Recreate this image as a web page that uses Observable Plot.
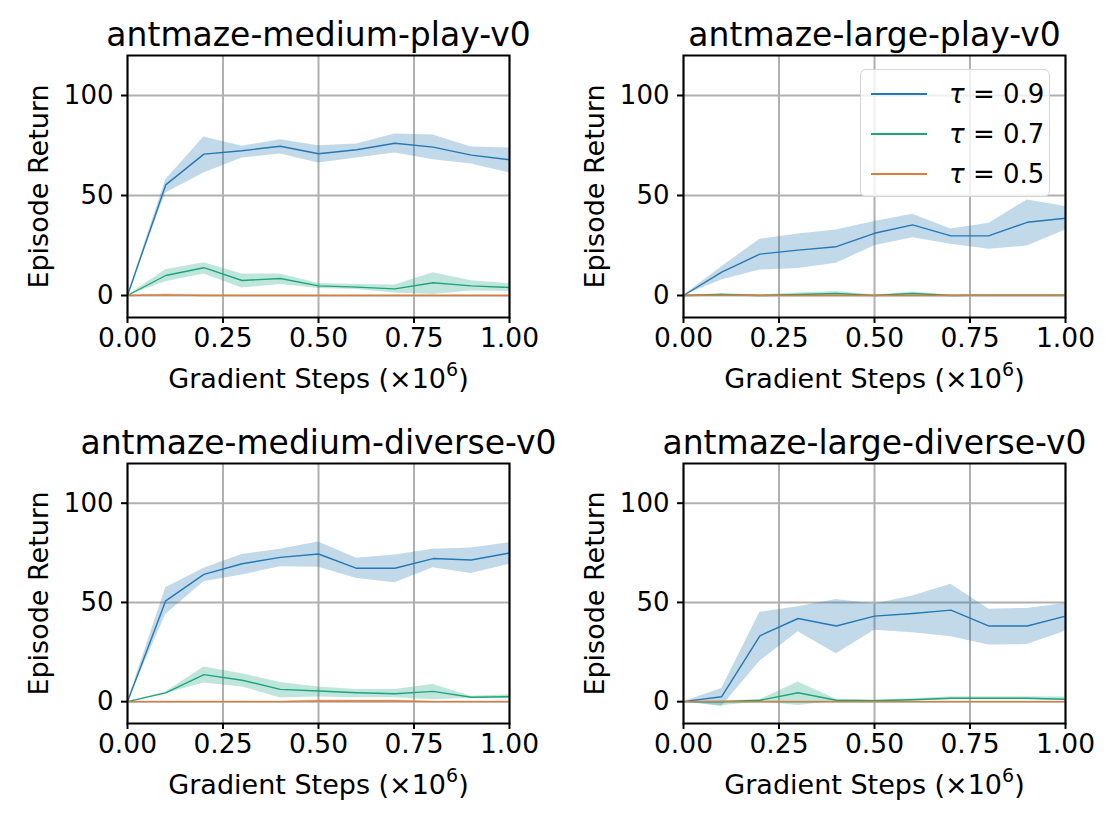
<!DOCTYPE html>
<html><head><meta charset="utf-8">
<script src="https://cdn.jsdelivr.net/npm/d3@7"></script>
<script src="https://cdn.jsdelivr.net/npm/@observablehq/plot@0.6"></script>
<style>
body{margin:0;background:#fff;font-family:"DejaVu Sans",sans-serif;}
#fig{position:relative;width:1112px;height:826px;background:#fff;}
.panel{position:absolute;}
#legend{position:absolute;left:860px;top:69px;width:188px;height:126px;border:1.5px solid #d4d4d4;border-radius:6px;background:rgba(255,255,255,0.8);}
.lrow{position:absolute;left:0;width:188px;height:40px;}
.lline{position:absolute;left:10px;width:56px;top:19px;height:0;border-top:2px solid;}
.ltext{position:absolute;left:88px;top:2px;font-size:26px;line-height:36px;color:#000;white-space:pre;}
</style></head><body><div id="fig"></div>
<script>
// ---- data ----
const steps = [0, 0.1, 0.2, 0.3, 0.4, 0.5, 0.6, 0.7, 0.8, 0.9, 1.0];
const tauLabels = ["τ = 0.9", "τ = 0.7", "τ = 0.5"];
const xTicks = [0, 0.25, 0.5, 0.75, 1.0];
const yTicks = [0, 50, 100];
const titles = ["antmaze-medium-play-v0", "antmaze-large-play-v0", "antmaze-medium-diverse-v0", "antmaze-large-diverse-v0"];
const xLabelBase = "Gradient Steps (×10";
const yLabel = "Episode Return";

// antmaze-medium-play-v0
const mp9   = [0, 55.3, 70.7, 72.4, 74.6, 70.9, 72.9, 76.1, 74.2, 70.2, 67.9];
const mp9lo = [0, 51.2, 61.2, 68.7, 70.7, 66.2, 68.7, 71.2, 67.9, 65.7, 61.2];
const mp9hi = [0, 57.9, 79.3, 74.6, 77.9, 74.9, 75.8, 80.8, 80.3, 74.2, 73.7];
const mp7   = [0, 10.0, 13.9, 7.5, 8.5, 4.8, 4.2, 3.3, 6.4, 4.8, 4.0];
const mp7lo = [0, 6.9, 10.7, 3.7, 5.5, 3.5, 3.0, 1.3, 0.5, 2.2, 2.0];
const mp7hi = [0, 12.9, 16.4, 10.7, 10.7, 6.0, 5.5, 5.2, 11.4, 7.4, 5.9];
const mp5   = [0, 0.3, 0, 0, 0, 0, 0, 0, 0, 0, 0];
const mp5lo = [0, 0, 0, 0, 0, 0, 0, 0, 0, 0, 0];
const mp5hi = [0, 0.8, 0.2, 0, 0, 0, 0, 0, 0, 0, 0];

// antmaze-large-play-v0
const lp9   = [0, 11.7, 20.7, 22.7, 24.4, 31.1, 35.3, 29.8, 29.9, 36.6, 38.6];
const lp9lo = [0, 7.7, 12.7, 13.5, 16.1, 24.9, 28.9, 25.6, 23.1, 24.7, 32.8];
const lp9hi = [0, 14.4, 28.1, 30.8, 32.8, 37.0, 40.6, 33.3, 36.1, 47.8, 44.5];
const lp7   = [0, 0.5, 0, 0.5, 1.0, 0, 1.0, 0, 0.2, 0.2, 0.2];
const lp7lo = [0, 0, 0, 0, 0.2, 0, 0.2, 0, 0, 0, 0];
const lp7hi = [0, 1.0, 0.3, 1.2, 2.0, 0.3, 1.8, 0.3, 0.5, 0.5, 0.5];
const lp5   = [0, 0.2, 0, 0, 0, 0, 0, 0, 0, 0, 0];
const lp5lo = [0, 0, 0, 0, 0, 0, 0, 0, 0, 0, 0];
const lp5hi = [0, 0.6, 0, 0, 0, 0, 0, 0, 0, 0, 0];

// antmaze-medium-diverse-v0
const md9   = [0, 50.8, 64.1, 69.5, 72.7, 74.4, 67.2, 67.2, 72.1, 71.4, 74.9];
const md9lo = [0, 43.9, 60.4, 63.8, 68.0, 67.7, 62.1, 59.9, 67.5, 64.6, 69.2];
const md9hi = [0, 57.4, 67.2, 74.2, 76.8, 80.5, 72.2, 73.9, 76.8, 77.4, 80.1];
const md7   = [0, 4.4, 13.6, 10.8, 6.2, 5.4, 4.5, 4.0, 5.2, 2.2, 2.5];
const md7lo = [0, 4.0, 9.4, 7.4, 1.9, 2.4, 2.0, 2.0, 1.0, 1.7, 1.7];
const md7hi = [0, 4.9, 17.5, 14.1, 9.6, 7.4, 6.1, 6.1, 8.6, 2.7, 3.5];
const md5   = [0, 0, 0, 0, 0, 0.3, 0.3, 0.3, 0, 0, 0];
const md5lo = [0, 0, 0, 0, 0, 0, 0, 0, 0, 0, 0];
const md5hi = [0, 0, 0, 0, 0, 0.8, 0.8, 0.8, 0, 0, 0];

// antmaze-large-diverse-v0
const ld9   = [0, 2.5, 33.2, 41.9, 38.1, 43.1, 44.4, 46.1, 38.1, 38.1, 43.1];
const ld9lo = [0, -2.4, 20.4, 35.2, 24.2, 36.0, 34.7, 32.7, 28.5, 28.8, 35.5];
const ld9hi = [0, 6.6, 45.0, 47.8, 51.5, 49.2, 53.2, 59.1, 46.6, 47.0, 49.5];
const ld7   = [0, 0, 0.7, 4.5, 0.7, 0.5, 1.0, 1.7, 1.7, 1.7, 1.2];
const ld7lo = [0, -2.0, 0, -1.9, 0.2, 0.2, 0.5, 1.0, 1.0, 1.0, 0.6];
const ld7hi = [0, 0.5, 1.0, 9.9, 1.2, 0.8, 1.5, 2.5, 2.5, 2.5, 2.3];
const ld5   = [0, 0, 0, 0, 0, 0, 0, 0, 0, 0, 0];
const ld5lo = [0, 0, 0, 0, 0, 0, 0, 0, 0, 0, 0];
const ld5hi = [0, 0, 0, 0, 0, 0, 0, 0, 0, 0, 0];

// ---- styling ----
const lineColors = ["#2378b5", "#1ba57c", "#e07b39"];

const panels = [
  {title: titles[0], left: 0,   top: 0,   height: 413, bottom: 96,  mean: [mp9, mp7, mp5], lo: [mp9lo, mp7lo, mp5lo], hi: [mp9hi, mp7hi, mp5hi]},
  {title: titles[1], left: 556, top: 0,   height: 413, bottom: 96,  mean: [lp9, lp7, lp5], lo: [lp9lo, lp7lo, lp5lo], hi: [lp9hi, lp7hi, lp5hi]},
  {title: titles[2], left: 0,   top: 408, height: 418, bottom: 103, mean: [md9, md7, md5], lo: [md9lo, md7lo, md5lo], hi: [md9hi, md7hi, md5hi]},
  {title: titles[3], left: 556, top: 408, height: 418, bottom: 103, mean: [ld9, ld7, ld5], lo: [ld9lo, ld7lo, ld5lo], hi: [ld9hi, ld7hi, ld5hi]}
];

const fig = document.getElementById("fig");
const ns = "http://www.w3.org/2000/svg";

for (const p of panels) {
  const rows = [];
  tauLabels.forEach((t, k) => steps.forEach((s, i) => rows.push({tau: t, step: s, ret: p.mean[k][i], lo: p.lo[k][i], hi: p.hi[k][i]})));
  const chart = Plot.plot({
    width: 556, height: p.height,
    marginLeft: 127, marginRight: 47, marginTop: 55, marginBottom: p.bottom,
    x: {domain: [0, 1], axis: null},
    y: {domain: [-11, 120], axis: null},
    color: {domain: tauLabels, range: lineColors},
    style: {fontFamily: "DejaVu Sans", color: "black", background: "white", overflow: "visible"},
    marks: [
      Plot.gridX(xTicks, {stroke: "#b0b0b0", strokeOpacity: 1, strokeWidth: 2}),
      Plot.gridY(yTicks, {stroke: "#b0b0b0", strokeOpacity: 1, strokeWidth: 2}),
      Plot.areaY(rows, {x: "step", y1: "lo", y2: "hi", z: "tau", fill: "tau", fillOpacity: 0.28}),
      Plot.lineY(rows, {x: "step", y: "ret", z: "tau", stroke: "tau", strokeWidth: 1.4}),
      Plot.frame({stroke: "black", strokeWidth: 2}),
      Plot.axisX(xTicks, {tickSize: 6, tickPadding: 5, fontSize: 26.5, tickFormat: d => d.toFixed(2), label: null, strokeWidth: 2}),
      Plot.axisY(yTicks, {tickSize: 6, tickPadding: 8, fontSize: 26, label: null, strokeWidth: 2}),
      Plot.text([p.title], {text: d => d, frameAnchor: "top", dy: -10, lineAnchor: "bottom", fontSize: 33}),
      Plot.text([xLabelBase], {text: d => d, frameAnchor: "bottom", dy: 70, lineAnchor: "bottom", textAnchor: "middle", fontSize: 27}),
      Plot.text([yLabel], {text: d => d, frameAnchor: "left", dx: -88, rotate: -90, textAnchor: "middle", lineAnchor: "middle", fontSize: 27})
    ]
  });
  chart.classList.add("panel");
  chart.style.left = p.left + "px";
  chart.style.top = p.top + "px";
  // superscript exponent in x label
  chart.querySelectorAll("text").forEach(t => {
    if (t.textContent === xLabelBase) {
      const b = document.createElementNS(ns, "tspan"); b.textContent = "6"; b.setAttribute("dy", "-12"); b.setAttribute("font-size", "19"); t.appendChild(b);
      const c = document.createElementNS(ns, "tspan"); c.textContent = ")"; c.setAttribute("dy", "12"); t.appendChild(c);
    }
  });
  fig.appendChild(chart);
}

// legend (inside top-right panel)
const legend = document.createElement("div");
legend.id = "legend";
tauLabels.forEach((t, k) => {
  const row = document.createElement("div");
  row.className = "lrow";
  row.style.top = (4 + k * 40) + "px";
  const ln = document.createElement("div");
  ln.className = "lline";
  ln.style.borderTopColor = lineColors[k];
  const tx = document.createElement("div");
  tx.className = "ltext";
  const parts = t.split(" = ");
  tx.innerHTML = '<i>' + parts[0] + '</i> = ' + parts[1];
  row.appendChild(ln); row.appendChild(tx);
  legend.appendChild(row);
});
fig.appendChild(legend);
</script></body></html>
